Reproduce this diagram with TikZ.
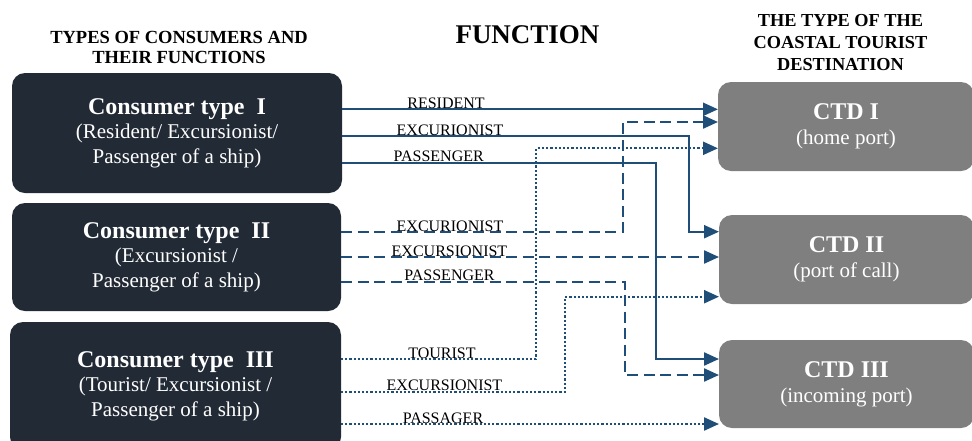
\documentclass[tikz,border=0pt]{standalone}
\usepackage{fontspec}
\setmainfont{Liberation Serif}
\usetikzlibrary{arrows.meta}
\definecolor{navy}{HTML}{222A35}
\definecolor{gry}{HTML}{7F7F7F}
\definecolor{lnc}{HTML}{1F4E79}
\begin{document}
\begin{tikzpicture}[x=1pt,y=-1pt,
 lbox/.style={fill=navy, rounded corners=13pt, text=white, align=center,
   font=\fontsize{21}{24.5}\selectfont, inner sep=0pt, outer sep=0pt},
 rbox/.style={fill=gry, rounded corners=13pt, text=white, align=center,
   font=\fontsize{21}{25}\selectfont, inner sep=0pt, outer sep=0pt},
 conn/.style={draw=lnc, line width=2.3pt, -{Triangle[length=15pt,width=13pt]}},
 solidc/.style={conn},
 dashc/.style={conn, dash pattern=on 11pt off 5.5pt},
 dotc/.style={conn, dash pattern=on 2.2pt off 2pt},
 lab/.style={anchor=base, font=\fontsize{16}{16}\selectfont, inner sep=0pt},
 head/.style={align=center, inner sep=0pt}
]
\useasboundingbox (0,0) rectangle (972,440);

% headers (anchor=base refers to the last line)
\node[head, anchor=base, font=\bfseries\fontsize{18.5}{20}\selectfont] (h1) at (179,63.3) {TYPES OF CONSUMERS AND\\THEIR FUNCTIONS};
\node[head, anchor=base, font=\bfseries\fontsize{27}{30}\selectfont] (h2) at (527.5,43.3) {FUNCTION};
\node[head, anchor=base, font=\bfseries\fontsize{18.3}{21.7}\selectfont] (h3) at (840.5,70) {THE TYPE OF THE\\COASTAL TOURIST\\DESTINATION};

% left boxes
\node[lbox, minimum width=330pt, minimum height=120pt] (c1) at (177,133)
  {{\bfseries\fontsize{24}{24.5}\selectfont Consumer type\ \ I}\\(Resident/ Excursionist/\\Passenger of a ship)};
\node[lbox, minimum width=329pt, minimum height=108pt] (c2) at (176.5,257)
  {{\bfseries\fontsize{24}{24.5}\selectfont Consumer type\ \ II}\\(Excursionist /\\Passenger of a ship)};
\node[lbox, minimum width=331pt, minimum height=128pt] (c3) at (175.5,386)
  {{\bfseries\fontsize{24}{24.5}\selectfont Consumer type\ \ III}\\(Tourist/ Excursionist /\\Passenger of a ship)};

% right boxes
\node[rbox, minimum width=256pt, minimum height=89pt] (d1) at (846,126.5)
  {{\bfseries\fontsize{24}{25}\selectfont CTD I}\\(home port)};
\node[rbox, minimum width=255pt, minimum height=89pt] (d2) at (846.5,259.5)
  {{\bfseries\fontsize{24}{25}\selectfont CTD II}\\(port of call)};
\node[rbox, minimum width=255pt, minimum height=88pt] (d3) at (846.5,384)
  {{\bfseries\fontsize{24}{25}\selectfont CTD III}\\(incoming port)};

% connectors: solid
\draw[solidc] (c1.east |- 0,109.3) -- (d1.west |- 0,109.3);
\draw[solidc] (c1.east |- 0,136) -- (689,136) |- (d2.west |- 0,231.7);
\draw[solidc] (c1.east |- 0,162.7) -- (656,162.7) |- (d3.west |- 0,359);
% dashed
\draw[dashc] (c2.east |- 0,232) -- (622.7,232) |- (d1.west |- 0,122);
\draw[dashc] (c2.east |- 0,257) -- (d2.west |- 0,257);
\draw[dashc] (c2.east |- 0,281.7) -- (624.7,281.7) |- (d3.west |- 0,375);
% dotted
\draw[dotc] (c3.east |- 0,359) -- (536,359) |- (d1.west |- 0,148.3);
\draw[dotc] (c3.east |- 0,391.7) -- (565,391.7) |- (d2.west |- 0,296.7);
\draw[dotc] (c3.east |- 0,424) -- (d3.west |- 0,424);

% labels
\node[lab] (l1) at (446,108.3) {RESIDENT};
\node[lab] (l2) at (450,135) {EXCURIONIST};
\node[lab] (l3) at (438.7,161.7) {PASSENGER};
\node[lab] (l4) at (450,231) {EXCURIONIST};
\node[lab] (l5) at (449.5,256) {EXCURSIONIST};
\node[lab] (l6) at (449.5,280.7) {PASSENGER};
\node[lab] (l7) at (442,358) {TOURIST};
\node[lab] (l8) at (444.5,390.7) {EXCURSIONIST};
\node[lab] (l9) at (443,423) {PASSAGER};
\end{tikzpicture}
\end{document}
